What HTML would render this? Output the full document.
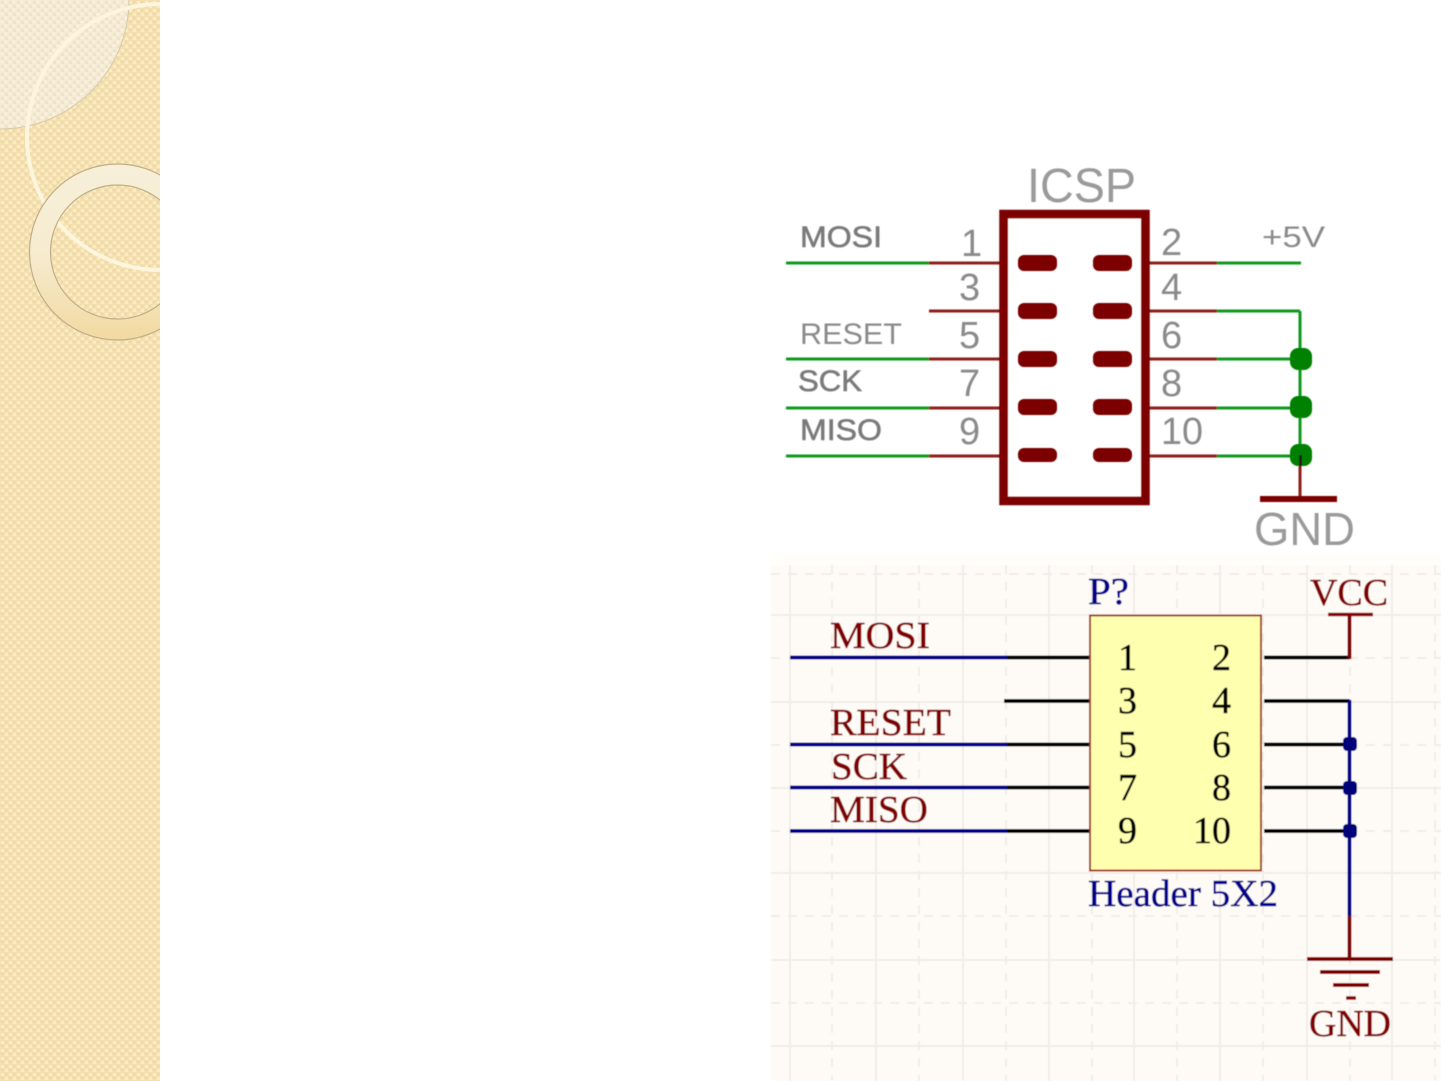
<!DOCTYPE html>
<html><head><meta charset="utf-8"><style>
html,body{margin:0;padding:0;background:#fff}
svg{display:block}
text{font-family:"Liberation Sans",sans-serif}
.s{font-family:"Liberation Serif",serif;stroke-width:.5px}
</style></head><body>
<svg width="1441" height="1081" viewBox="0 0 1441 1081" xmlns="http://www.w3.org/2000/svg">
<defs>
<pattern id="p" width="8" height="8" patternUnits="userSpaceOnUse">
<rect width="8" height="8" fill="#f3dfb0"/>
<rect x="1" y="1" width="3" height="3" fill="#f8ebc9"/>
<rect x="5" y="5" width="3" height="3" fill="#f8ebc9"/>
<rect x="5" y="1" width="2" height="2" fill="#edd6a0"/>
<rect x="1" y="5" width="2" height="2" fill="#edd6a0"/>
</pattern>
<pattern id="q" width="8" height="8" patternUnits="userSpaceOnUse">
<rect width="8" height="8" fill="#f6ecd6"/>
<rect x="1" y="1" width="3" height="3" fill="#f1e3c8"/>
<rect x="5" y="5" width="3" height="3" fill="#f1e3c8"/>
<rect x="5" y="1" width="2" height="2" fill="#faf4e6"/>
<rect x="1" y="5" width="2" height="2" fill="#faf4e6"/>
</pattern>
<linearGradient id="r" x1="0" y1="0" x2="0" y2="1">
<stop offset="0" stop-color="#f7efd9"/><stop offset=".5" stop-color="#f6ecd0"/><stop offset="1" stop-color="#f2d9a0"/>
</linearGradient>
<filter id="b" x="-5%" y="-5%" width="110%" height="110%"><feGaussianBlur stdDeviation="0.5"/></filter>
<clipPath id="c"><rect width="160" height="1081"/></clipPath>
</defs>

<g clip-path="url(#c)">
<rect width="160" height="1081" fill="url(#p)"/>
<circle cx="0" cy="0" r="129" fill="url(#q)" stroke="#d8caa8" stroke-width="1"/>
<circle cx="160" cy="137" r="133" fill="none" stroke="#fdf5dd" stroke-width="4"/>
<path fill-rule="evenodd" d="M29.500 252a88 88 0 1 0 176 0a88 88 0 1 0 -176 0zM50.500 252a67 67 0 1 0 134 0a67 67 0 1 0 -134 0z" fill="url(#r)" stroke="#bfae88" stroke-width="1.200"/>
</g>

<g filter="url(#b)">
<!-- ICSP schematic -->
<g fill="#8a8a8a">
<text x="1027" y="202" font-size="48" font-weight="normal" textLength="109" lengthAdjust="spacingAndGlyphs" fill="#9a9a9a">ICSP</text>
<text x="800" y="247" font-size="30" textLength="82" lengthAdjust="spacingAndGlyphs" fill="#7a7a7a" stroke="#7a7a7a" stroke-width=".6">MOSI</text>
<text x="800" y="344" font-size="30" textLength="102" lengthAdjust="spacingAndGlyphs">RESET</text>
<text x="798" y="391" font-size="30" textLength="64" lengthAdjust="spacingAndGlyphs" fill="#7a7a7a" stroke="#7a7a7a" stroke-width=".6">SCK</text>
<text x="800" y="440" font-size="30" textLength="82" lengthAdjust="spacingAndGlyphs" fill="#7a7a7a" stroke="#7a7a7a" stroke-width=".6">MISO</text>
<text x="1262" y="247" font-size="30" textLength="63" lengthAdjust="spacingAndGlyphs">+5V</text>
<g font-size="38">
<text x="961" y="256">1</text><text x="959" y="300">3</text><text x="959" y="348">5</text><text x="959" y="396">7</text><text x="959" y="444">9</text>
<text x="1161" y="255">2</text><text x="1161" y="300">4</text><text x="1161" y="348">6</text><text x="1161" y="396">8</text>
<text x="1161" y="444" textLength="42" lengthAdjust="spacingAndGlyphs">10</text>
</g>
<text x="1254" y="545" font-size="46" textLength="101" lengthAdjust="spacingAndGlyphs" fill="#9a9a9a">GND</text>
</g>
<g stroke="#119a1b" stroke-width="3" fill="none">
<path d="M786 263H929M786 359H929M786 408H929M786 456H929"/>
<path d="M1217 263H1301M1217 311H1300M1217 359H1300M1217 408H1300M1217 456H1300M1300 311V456"/>
</g>
<g stroke="#8f1f1f" stroke-width="3" fill="none">
<path d="M929 263H1002M929 311H1002M929 359H1002M929 408H1002M929 456H1002"/>
<path d="M1146 263H1217M1146 311H1217M1146 359H1217M1146 408H1217M1146 456H1217"/>
<path d="M1300 456V498"/>
</g>
<rect x="1003.500" y="214" width="142" height="287" fill="none" stroke="#7b0000" stroke-width="8.500"/>
<g fill="#7b0000">
<rect x="1018" y="255" width="39" height="16" rx="6"/><rect x="1093" y="255" width="39" height="16" rx="6"/>
<rect x="1018" y="303" width="39" height="16" rx="6"/><rect x="1093" y="303" width="39" height="16" rx="6"/>
<rect x="1018" y="351" width="39" height="16" rx="6"/><rect x="1093" y="351" width="39" height="16" rx="6"/>
<rect x="1018" y="399" width="39" height="16" rx="6"/><rect x="1093" y="399" width="39" height="16" rx="6"/>
<rect x="1018" y="448" width="39" height="14" rx="6"/><rect x="1093" y="448" width="39" height="14" rx="6"/>
<rect x="1260" y="496" width="77" height="6"/>
</g>
<g fill="#008000"><rect x="1290" y="348" width="22" height="22" rx="8"/><rect x="1290" y="396" width="22" height="22" rx="8"/><rect x="1290" y="444" width="22" height="22" rx="8"/></g>
<rect x="1299" y="455" width="3" height="11" fill="#1a1a1a"/>

<!-- Lower schematic -->
<rect x="771" y="565" width="670" height="516" fill="#fefbf6"/>
<rect x="771" y="553" width="670" height="12" fill="#fffefb"/>
<g stroke="#f0eeea" stroke-width="2" fill="none">
<path d="M790 565V1081M876 565V1081M963 565V1081M1049 565V1081M1134 565V1081M1220 565V1081M1307 565V1081M1392 565V1081"/>
<path d="M771 615H1441M771 702H1441M771 788H1441M771 873H1441M771 960H1441M771 1046H1441"/>
</g>
<g stroke="#f0eeea" stroke-width="2" fill="none" stroke-dasharray="9 8">
<path d="M832 565V1081M919 565V1081M1006 565V1081M1092 565V1081M1177 565V1081M1263 565V1081M1350 565V1081M1435 565V1081"/>
<path d="M771 574H1441M771 658H1441M771 745H1441M771 831H1441M771 916H1441M771 1003H1441"/>
</g>
<rect x="1090" y="615.500" width="171" height="255" fill="#ffffb0" stroke="#a03020" stroke-width="2"/>
<g stroke="#000" stroke-width="4" fill="none">
<path d="M1006 657.500H1089M1004 701H1089M1006 744.500H1089M1006 787.500H1089M1006 831H1089"/>
<path d="M1264 657.500H1350M1264 701H1350M1264 744.500H1350M1264 787.500H1350M1264 831H1350"/>
</g>
<g stroke="#00008a" stroke-width="4" fill="none">
<path d="M790 657.500H1007M790 744.500H1007M790 787.500H1007M790 831H1007"/>
<path d="M1349.500 700V916"/>
</g>
<g fill="#00007a">
<rect x="1343" y="737" width="14" height="14" rx="4"/><rect x="1343" y="781" width="14" height="14" rx="4"/><rect x="1343" y="824" width="14" height="14" rx="4"/>
</g>
<g stroke="#800000" fill="none">
<path d="M1349.500 916V958" stroke-width="4"/>
<path d="M1349.500 615V659" stroke-width="4"/>
<path d="M1328 614.500H1373" stroke-width="3.500"/>
<path d="M1307 959H1393" stroke-width="4"/>
<path d="M1320 972H1380" stroke-width="4"/>
<path d="M1333 985H1369" stroke-width="4"/>
<path d="M1346 998H1356" stroke-width="3.500"/>
</g>
<g fill="#800000" stroke="#800000" font-size="38">
<text class="s" x="830" y="648" textLength="100" lengthAdjust="spacingAndGlyphs">MOSI</text>
<text class="s" x="830" y="735" textLength="121" lengthAdjust="spacingAndGlyphs">RESET</text>
<text class="s" x="831" y="779" textLength="76" lengthAdjust="spacingAndGlyphs">SCK</text>
<text class="s" x="830" y="822" textLength="98" lengthAdjust="spacingAndGlyphs">MISO</text>
<text class="s" x="1310" y="605" textLength="78" lengthAdjust="spacingAndGlyphs">VCC</text>
<text class="s" x="1309" y="1036" textLength="82" lengthAdjust="spacingAndGlyphs">GND</text>
</g>
<g fill="#00008a" stroke="#00008a" font-size="38">
<text class="s" x="1088" y="604" textLength="41" lengthAdjust="spacingAndGlyphs">P?</text>
<text class="s" x="1088" y="906" textLength="190" lengthAdjust="spacingAndGlyphs">Header 5X2</text>
</g>
<g fill="#000" stroke="#000" font-size="38">
<text class="s" x="1118" y="670">1</text><text class="s" x="1118" y="713">3</text><text class="s" x="1118" y="757">5</text><text class="s" x="1118" y="800">7</text><text class="s" x="1118" y="843">9</text>
<text class="s" x="1212" y="670">2</text><text class="s" x="1212" y="713">4</text><text class="s" x="1212" y="757">6</text><text class="s" x="1212" y="800">8</text>
<text class="s" x="1193" y="843" textLength="38" lengthAdjust="spacingAndGlyphs">10</text>
</g>
</g>
</svg>
</body></html>
